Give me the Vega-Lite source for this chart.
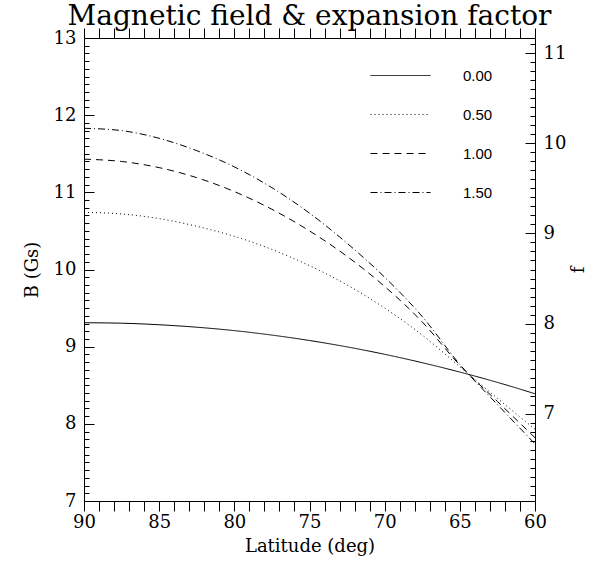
{
  "$schema": "https://vega.github.io/schema/vega-lite/v6.json",
  "width": 451,
  "height": 463,
  "autosize": "none",
  "padding": {"left": 84, "top": 38, "right": 62, "bottom": 63},
  "background": "white",
  "title": {"text": "Magnetic field & expansion factor", "font": "DejaVu Serif", "fontSize": 28, "fontWeight": "normal", "color": "black", "offset": -3, "anchor": "middle"},
  "config": {
    "view": {"stroke": null},
    "axis": {"domainColor": "black", "domainWidth": 1, "tickColor": "black", "tickWidth": 1, "tickOpacity": 1, "ticks": true, "labelColor": "black", "titleColor": "black", "labelFont": "DejaVu Serif", "titleFont": "DejaVu Serif", "labelFontSize": 18, "titleFontSize": 18, "titleFontWeight": "normal", "grid": false, "labelOverlap": false, "labelBound": false, "labelFlush": false}
  },
  "datasets": {
    "curves": [
      {"lat": 90, "B": 9.31, "s": "0.00"}, {"lat": 87.5, "B": 9.304, "s": "0.00"}, {"lat": 85, "B": 9.284, "s": "0.00"}, {"lat": 82.5, "B": 9.252, "s": "0.00"}, {"lat": 80, "B": 9.208, "s": "0.00"}, {"lat": 77.5, "B": 9.15, "s": "0.00"}, {"lat": 75, "B": 9.08, "s": "0.00"}, {"lat": 72.5, "B": 8.997, "s": "0.00"}, {"lat": 70, "B": 8.901, "s": "0.00"}, {"lat": 67.5, "B": 8.792, "s": "0.00"}, {"lat": 65, "B": 8.671, "s": "0.00"}, {"lat": 62.5, "B": 8.537, "s": "0.00"}, {"lat": 60, "B": 8.39, "s": "0.00"},
      {"lat": 90, "B": 10.74, "s": "0.50"}, {"lat": 87.5, "B": 10.72, "s": "0.50"}, {"lat": 85, "B": 10.66, "s": "0.50"}, {"lat": 82.5, "B": 10.56, "s": "0.50"}, {"lat": 80, "B": 10.43, "s": "0.50"}, {"lat": 77.5, "B": 10.26, "s": "0.50"}, {"lat": 75, "B": 10.05, "s": "0.50"}, {"lat": 72.5, "B": 9.8, "s": "0.50"}, {"lat": 70, "B": 9.5, "s": "0.50"}, {"lat": 67.5, "B": 9.15, "s": "0.50"}, {"lat": 65, "B": 8.74, "s": "0.50"}, {"lat": 62.5, "B": 8.33, "s": "0.50"}, {"lat": 60, "B": 7.93, "s": "0.50"},
      {"lat": 90, "B": 11.43, "s": "1.00"}, {"lat": 87.5, "B": 11.4, "s": "1.00"}, {"lat": 85, "B": 11.32, "s": "1.00"}, {"lat": 82.5, "B": 11.19, "s": "1.00"}, {"lat": 80, "B": 11.01, "s": "1.00"}, {"lat": 77.5, "B": 10.78, "s": "1.00"}, {"lat": 75, "B": 10.5, "s": "1.00"}, {"lat": 72.5, "B": 10.17, "s": "1.00"}, {"lat": 70, "B": 9.78, "s": "1.00"}, {"lat": 67.5, "B": 9.32, "s": "1.00"}, {"lat": 65, "B": 8.76, "s": "1.00"}, {"lat": 62.5, "B": 8.29, "s": "1.00"}, {"lat": 60, "B": 7.82, "s": "1.00"},
      {"lat": 90, "B": 11.83, "s": "1.50"}, {"lat": 87.5, "B": 11.8, "s": "1.50"}, {"lat": 85, "B": 11.7, "s": "1.50"}, {"lat": 82.5, "B": 11.54, "s": "1.50"}, {"lat": 80, "B": 11.33, "s": "1.50"}, {"lat": 77.5, "B": 11.06, "s": "1.50"}, {"lat": 75, "B": 10.73, "s": "1.50"}, {"lat": 72.5, "B": 10.34, "s": "1.50"}, {"lat": 70, "B": 9.9, "s": "1.50"}, {"lat": 67.5, "B": 9.39, "s": "1.50"}, {"lat": 65, "B": 8.77, "s": "1.50"}, {"lat": 62.5, "B": 8.25, "s": "1.50"}, {"lat": 60, "B": 7.74, "s": "1.50"}
    ],
    "frange": [{"lat": 75, "f": 6.03}, {"lat": 75, "f": 11.17}],
    "brange": [{"B": 7}, {"B": 13}]
  },
  "layer": [
    {
      "data": {"name": "curves"},
      "mark": {"type": "line", "color": "black", "strokeWidth": 1, "interpolate": "monotone", "clip": true},
      "encoding": {
        "x": {"field": "lat", "type": "quantitative", "scale": {"domain": [60, 90], "reverse": true, "nice": false, "zero": false},
          "axis": {"orient": "bottom", "title": "Latitude (deg)", "titlePadding": 6, "labelFont": "DejaVu Serif", "titleFont": "DejaVu Serif", "labelFontSize": 18, "titleFontSize": 18,
            "values": [60,61,62,63,64,65,66,67,68,69,70,71,72,73,74,75,76,77,78,79,80,81,82,83,84,85,86,87,88,89,90],
            "labelExpr": "datum.value % 5 == 0 ? format(datum.value, 'd') : ''",
            "tickSize": 10,
            "labelPadding": 2,
            "encode": {"ticks": {"y2": {"signal": "datum.value % 5 == 0 ? -10 : -5"}}}}},
        "y": {"field": "B", "type": "quantitative", "scale": {"domain": [7, 13], "nice": false, "zero": false},
          "axis": {"orient": "left", "title": "B (Gs)", "titlePadding": 12, "labelFont": "DejaVu Serif", "titleFont": "DejaVu Serif", "labelFontSize": 18, "titleFontSize": 18,
            "values": [7, 8, 9, 10, 11, 12, 13],
            "format": "d",
            "tickSize": -10,
            "labelPadding": 18}},
        "strokeDash": {"field": "s", "type": "nominal",
          "scale": {"domain": ["0.00", "0.50", "1.00", "1.50"], "range": [[1, 0], [1, 3], [7, 5], [7, 3, 1, 3]]},
          "legend": {"title": null, "orient": "none", "legendX": 286, "legendY": 7, "symbolType": "stroke", "symbolSize": 3600, "symbolStrokeColor": "black", "symbolStrokeWidth": 1, "labelFont": "Liberation Sans", "labelFontSize": 15, "labelColor": "black", "labelOffset": 32, "rowPadding": 0}}
      }
    },
    {
      "data": {"name": "frange"},
      "mark": {"type": "point", "opacity": 0},
      "encoding": {
        "x": {"field": "lat", "type": "quantitative",
          "axis": {"orient": "top", "title": null, "labels": false, "tickSize": 10,
            "values": [60,61,62,63,64,65,66,67,68,69,70,71,72,73,74,75,76,77,78,79,80,81,82,83,84,85,86,87,88,89,90],
            "encode": {"ticks": {"y2": {"signal": "datum.value % 5 == 0 ? 10 : 5"}}}}},
        "y": {"field": "f", "type": "quantitative", "scale": {"domain": [6.03, 11.17], "nice": false, "zero": false},
          "axis": {"orient": "right", "title": "f", "titlePadding": 22, "titleAngle": 270, "labelFont": "DejaVu Serif", "titleFont": "DejaVu Serif", "labelFontSize": 18, "titleFontSize": 18,
            "values": [7, 8, 9, 10, 11],
            "format": "d",
            "tickSize": -10,
            "labelPadding": 18}}
      }
    },
    {
      "data": {"name": "brange"},
      "mark": {"type": "point", "opacity": 0},
      "encoding": {
        "y": {"field": "B", "type": "quantitative", "scale": {"domain": [7, 13], "nice": false, "zero": false},
          "axis": {"orient": "left", "title": null, "labels": false, "domain": false, "tickSize": -5,
            "values": [7.1,7.2,7.3,7.4,7.5,7.6,7.7,7.8,7.9,8.1,8.2,8.3,8.4,8.5,8.6,8.7,8.8,8.9,9.1,9.2,9.3,9.4,9.5,9.6,9.7,9.8,9.9,10.1,10.2,10.3,10.4,10.5,10.6,10.7,10.8,10.9,11.1,11.2,11.3,11.4,11.5,11.6,11.7,11.8,11.9,12.1,12.2,12.3,12.4,12.5,12.6,12.7,12.8,12.9]}}
      }
    },
    {
      "data": {"name": "frange"},
      "mark": {"type": "point", "opacity": 0},
      "encoding": {
        "y": {"field": "f", "type": "quantitative", "scale": {"domain": [6.03, 11.17], "nice": false, "zero": false},
          "axis": {"orient": "right", "title": null, "labels": false, "domain": false, "tickSize": -5,
            "values": [6.1,6.2,6.3,6.4,6.5,6.6,6.7,6.8,6.9,7.1,7.2,7.3,7.4,7.5,7.6,7.7,7.8,7.9,8.1,8.2,8.3,8.4,8.5,8.6,8.7,8.8,8.9,9.1,9.2,9.3,9.4,9.5,9.6,9.7,9.8,9.9,10.1,10.2,10.3,10.4,10.5,10.6,10.7,10.8,10.9,11.1]}}
      }
    }
  ],
  "resolve": {"scale": {"y": "independent"}, "axis": {"x": "independent", "y": "independent"}}
}
